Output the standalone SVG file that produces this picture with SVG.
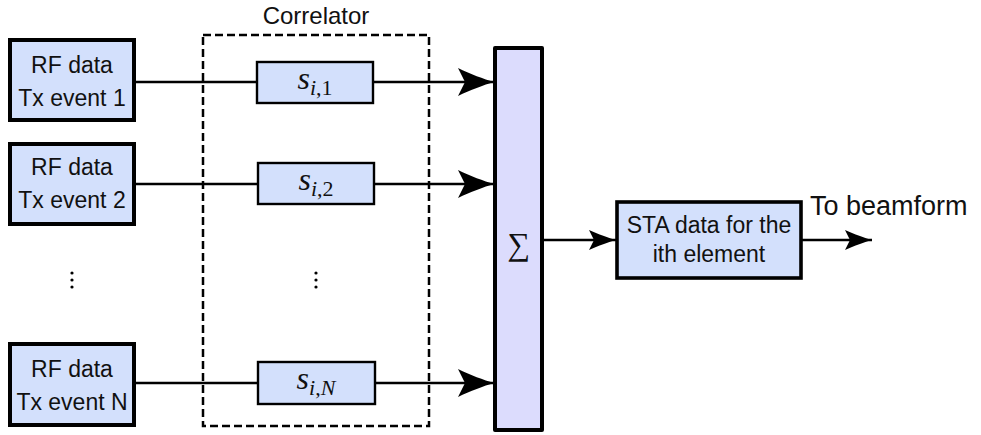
<svg xmlns="http://www.w3.org/2000/svg" width="981" height="435" viewBox="0 0 981 435">
  <style>
    .rf { fill: #d3e0fc; stroke: #000; stroke-width: 4; }
    .corr { fill: #d3e0fc; stroke: #000; stroke-width: 2.4; }
    .sum { fill: #dcdcfd; stroke: #000; stroke-width: 4; stroke-linejoin: round; }
    .sta { fill: #d3e0fc; stroke: #000; stroke-width: 3.6; }
    .lbl { font-family: "Liberation Sans", Arial, sans-serif; font-size: 23px; fill: #111; text-anchor: middle; }
    .title { font-size: 24px; }
    .note { font-size: 27px; text-anchor: start; }
    .math { font-family: "Liberation Serif", "Times New Roman", serif; fill: #111; text-anchor: middle; }
    .wire { fill: none; stroke: #000; stroke-width: 2.4; }
    .frame { fill: none; stroke: #000; stroke-width: 2.5; stroke-dasharray: 8 4; }
  </style>
  <defs>
    <marker id="bigHead" markerUnits="userSpaceOnUse" markerWidth="40" markerHeight="30" refX="36" refY="14" orient="auto" overflow="visible">
      <path d="M36,14 C26,11 12,6 0,0 L7,14 L0,28 C12,22 26,17 36,14 Z" fill="#000"/>
    </marker>
    <marker id="smallHead" markerUnits="userSpaceOnUse" markerWidth="30" markerHeight="22" refX="27" refY="10" orient="auto" overflow="visible">
      <path d="M27,10 C20,8 9,4 0,0 L5,10 L0,20 C9,16 20,12 27,10 Z" fill="#000"/>
    </marker>
  </defs>

  <!-- correlator frame -->
  <g id="correlator">
    <rect class="frame" x="203" y="35" width="226" height="391"/>
    <text class="lbl title" x="316" y="24">Correlator</text>
  </g>

  <!-- connectors -->
  <g id="connectors">
    <line class="wire" x1="134" y1="82" x2="257" y2="82"/>
    <line class="wire" x1="134" y1="184" x2="258" y2="184"/>
    <line class="wire" x1="134" y1="383" x2="258" y2="383"/>
    <line class="wire" x1="373" y1="82" x2="494" y2="82" marker-end="url(#bigHead)"/>
    <line class="wire" x1="374" y1="184" x2="494" y2="184" marker-end="url(#bigHead)"/>
    <line class="wire" x1="375" y1="383" x2="494" y2="383" marker-end="url(#bigHead)"/>
    <line class="wire" x1="543" y1="240" x2="616" y2="240" marker-end="url(#smallHead)"/>
    <line class="wire" x1="802" y1="240" x2="872" y2="240" marker-end="url(#smallHead)"/>
  </g>

  <!-- RF data inputs -->
  <g id="rf1">
    <rect class="rf" x="10" y="40" width="124" height="80"/>
    <text class="lbl" x="72" y="73">RF data</text>
    <text class="lbl" x="72" y="106">Tx event 1</text>
  </g>
  <g id="rf2">
    <rect class="rf" x="10" y="144" width="124" height="80"/>
    <text class="lbl" x="72" y="175">RF data</text>
    <text class="lbl" x="72" y="208">Tx event 2</text>
  </g>
  <g id="rfN">
    <rect class="rf" x="10" y="344" width="124" height="81"/>
    <text class="lbl" x="72" y="377">RF data</text>
    <text class="lbl" x="72" y="410">Tx event N</text>
  </g>
  <g id="rfDots" fill="#000">
    <circle cx="72" cy="273" r="1.6"/>
    <circle cx="72" cy="280" r="1.6"/>
    <circle cx="72" cy="287" r="1.6"/>
  </g>

  <!-- correlation filters -->
  <g id="s1">
    <rect class="corr" x="257" y="62" width="116" height="41"/>
    <text class="math" x="315" y="89"><tspan font-style="italic" font-size="32">s</tspan><tspan font-size="22" dy="6"><tspan font-style="italic">i</tspan>,1</tspan></text>
  </g>
  <g id="s2">
    <rect class="corr" x="258" y="163" width="116" height="41"/>
    <text class="math" x="316" y="190"><tspan font-style="italic" font-size="32">s</tspan><tspan font-size="22" dy="6"><tspan font-style="italic">i</tspan>,2</tspan></text>
  </g>
  <g id="sN">
    <rect class="corr" x="258" y="362" width="117" height="42"/>
    <text class="math" x="316" y="389"><tspan font-style="italic" font-size="32">s</tspan><tspan font-size="22" dy="6"><tspan font-style="italic">i</tspan>,<tspan font-style="italic">N</tspan></tspan></text>
  </g>
  <g id="sDots" fill="#000">
    <circle cx="316" cy="273" r="1.6"/>
    <circle cx="316" cy="280" r="1.6"/>
    <circle cx="316" cy="287" r="1.6"/>
  </g>

  <!-- summation -->
  <g id="sum">
    <rect class="sum" x="495" y="48" width="47" height="382"/>
    <text class="math" x="519" y="255" font-size="32" fill="#223">∑</text>
  </g>

  <!-- output -->
  <g id="sta">
    <rect class="sta" x="617" y="202" width="184" height="76"/>
    <text class="lbl" x="709" y="233">STA data for the</text>
    <text class="lbl" x="709" y="262">ith element</text>
  </g>
  <g id="out">
    <text class="lbl note" x="810" y="215">To beamform</text>
  </g>
</svg>
